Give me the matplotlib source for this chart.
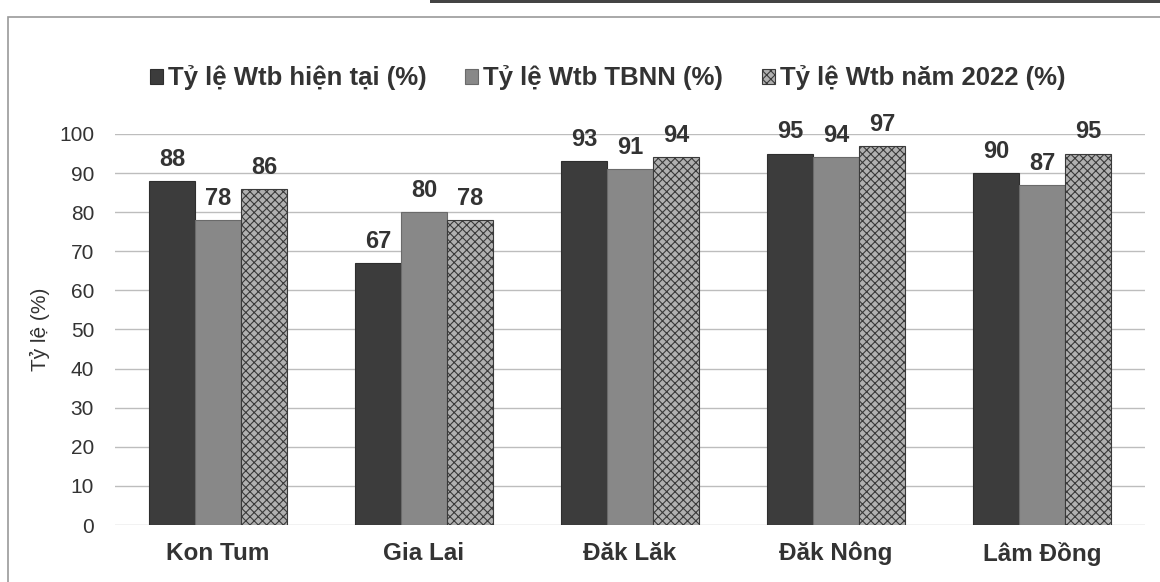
import numpy as np
import matplotlib.pyplot as plt
from matplotlib.patches import Rectangle

plt.rcParams['font.family'] = ['Liberation Sans', 'DejaVu Sans']
plt.rcParams['hatch.linewidth'] = 0.8

provinces = ['Kon Tum', 'Gia Lai', 'Đăk Lăk', 'Đăk Nông', 'Lâm Đồng']
wtb_now = [88, 67, 93, 95, 90]
wtb_avg = [78, 80, 91, 94, 87]
wtb_2022 = [86, 78, 94, 97, 95]
series_names = ['Tỷ lệ Wtb hiện tại (%)', 'Tỷ lệ Wtb TBNN (%)', 'Tỷ lệ Wtb năm 2022 (%)']

fig = plt.figure(figsize=(11.6, 5.82), dpi=100)
ax = fig.add_axes([0.0991, 0.0979, 0.8879, 0.6719])

x = np.arange(len(provinces))
w = 0.223
styles = [
    dict(color='#3c3c3c', edgecolor='#2e2e2e'),
    dict(color='#888888', edgecolor='#6a6a6a'),
    dict(facecolor='#b0b0b0', edgecolor='#3a3a3a', hatch='xxxx'),
]
data = [wtb_now, wtb_avg, wtb_2022]
handles = []
for i, (vals, st) in enumerate(zip(data, styles)):
    bars = ax.bar(x + (i - 1) * w, vals, w, linewidth=0.8, zorder=3, **st, label=series_names[i])
    handles.append(bars)
    for b, v in zip(bars, vals):
        ax.text(b.get_x() + b.get_width() / 2, v + 2.6, str(v), ha='center', va='bottom',
                fontsize=17, fontweight='bold', color='#333333', clip_on=False)

ax.set_xlim(-0.5, 4.5)
ax.set_ylim(0, 100)
ax.set_yticks(range(0, 101, 10))
ax.yaxis.grid(True, color='#bdbdbd', linewidth=1.0, zorder=0)
ax.set_axisbelow(True)
for s in ax.spines.values():
    s.set_visible(False)
ax.tick_params(axis='both', length=0)
ax.tick_params(axis='y', labelsize=15, labelcolor='#333333', pad=15)
ax.set_xticks(x)
ax.set_xticklabels(provinces, fontsize=17.5, fontweight='bold', color='#333333')
ax.tick_params(axis='x', pad=12)
ax.set_ylabel('Tỷ lệ (%)', fontsize=15, color='#333333')
ax.yaxis.set_label_coords(-0.0632, 0.5)

leg = fig.legend(handles=handles, loc='center', bbox_to_anchor=(0.524, 0.866), ncol=3,
                 frameon=False, handlelength=0.5, handleheight=0.5, handletextpad=0.2,
                 columnspacing=1.5, prop={'size': 18.5, 'weight': 'bold'})
for t in leg.get_texts():
    t.set_color('#333333')

# outer frame of the chart area and the dark scan edge at the top
fig.patches.append(Rectangle((8 / 1160, -0.01), 1.1, 1 - 17 / 582 + 0.01, transform=fig.transFigure,
                             fill=False, edgecolor='#9a9a9a', linewidth=1.2))
fig.patches.append(Rectangle((430 / 1160, 1 - 3 / 582), 1, 3 / 582, transform=fig.transFigure,
                             facecolor='#444444', edgecolor='none'))

fig.savefig('out.png', dpi=100)
